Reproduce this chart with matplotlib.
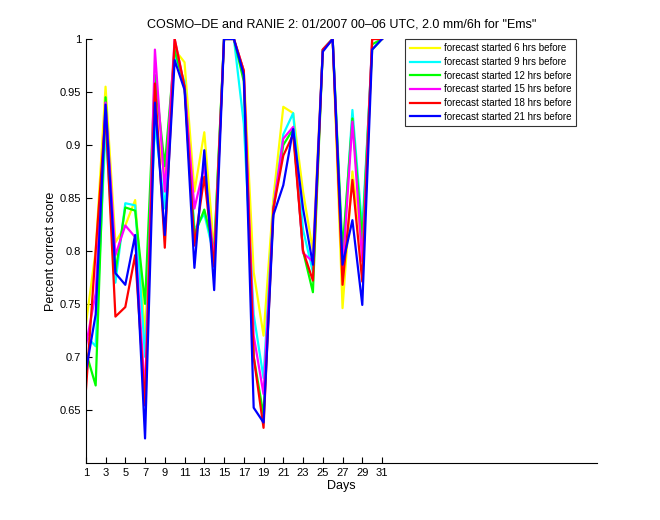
import matplotlib
matplotlib.use("agg")
import matplotlib.pyplot as plt
import numpy as np

days = np.arange(1, 32)

# percent correct score per day, one list per forecast lead
f06 = [0.73, 0.80, 0.955, 0.808, 0.824, 0.848, 0.72, 0.925, 0.87, 0.99, 0.978, 0.856, 0.912, 0.80, 1.0, 1.0,
       0.97, 0.78, 0.72, 0.85, 0.936, 0.93, 0.856, 0.80, 0.99, 1.0, 0.746, 0.875, 0.80, 0.99, 1.0]
f09 = [0.72, 0.71, 0.915, 0.77, 0.845, 0.843, 0.70, 0.92, 0.84, 0.985, 0.96, 0.82, 0.835, 0.795, 1.0, 1.0,
       0.92, 0.74, 0.68, 0.84, 0.91, 0.93, 0.82, 0.78, 0.99, 1.0, 0.79, 0.933, 0.82, 0.99, 1.0]
f12 = [0.705, 0.673, 0.945, 0.78, 0.841, 0.838, 0.75, 0.966, 0.88, 0.99, 0.955, 0.815, 0.839, 0.80, 1.0, 1.0,
       0.96, 0.70, 0.645, 0.84, 0.90, 0.915, 0.80, 0.761, 0.99, 1.0, 0.80, 0.925, 0.81, 0.995, 1.0]
f15 = [0.71, 0.76, 0.94, 0.796, 0.824, 0.813, 0.664, 0.99, 0.856, 1.0, 0.955, 0.84, 0.88, 0.79, 1.0, 1.0,
       0.97, 0.72, 0.665, 0.84, 0.906, 0.917, 0.798, 0.79, 0.99, 1.0, 0.78, 0.922, 0.79, 1.0, 1.0]
f18 = [0.667, 0.80, 0.93, 0.738, 0.747, 0.796, 0.654, 0.958, 0.803, 1.0, 0.955, 0.805, 0.87, 0.785, 1.0, 1.0,
       0.97, 0.70, 0.633, 0.84, 0.89, 0.91, 0.80, 0.772, 0.99, 1.0, 0.768, 0.867, 0.771, 1.0, 1.0]
f21 = [0.686, 0.74, 0.938, 0.779, 0.768, 0.815, 0.623, 0.94, 0.815, 0.98, 0.952, 0.784, 0.895, 0.763, 1.0, 1.0,
       0.966, 0.652, 0.638, 0.834, 0.862, 0.915, 0.84, 0.787, 0.988, 1.0, 0.787, 0.829, 0.749, 0.99, 1.0]

series = [f06, f09, f12, f15, f18, f21]
colors = ["#ffff00", "#00ffff", "#00ff00", "#ff00ff", "#ff0000", "#0000ff"]
labels = ["forecast started 6 hrs before", "forecast started 9 hrs before",
          "forecast started 12 hrs before", "forecast started 15 hrs before",
          "forecast started 18 hrs before", "forecast started 21 hrs before"]

plt.rcParams['font.family'] = ['Liberation Sans', 'DejaVu Sans']

fig = plt.figure(figsize=(6.6, 5.2), dpi=100)
ax = fig.add_axes([0.13, 0.11, 0.775, 0.815])

for vals, c, lab in zip(series, colors, labels):
    ax.plot(days, vals, color=c, lw=1.6, label=lab)

ax.set_xlim(1, 52.8)
ax.set_ylim(0.6, 1)
ax.set_xticks(np.arange(1, 32, 2))
ax.set_yticks([0.65, 0.7, 0.75, 0.8, 0.85, 0.9, 0.95, 1])
ax.set_yticklabels(["0.65", "0.7", "0.75", "0.8", "0.85", "0.9", "0.95", "1"])
ax.tick_params(direction="in", length=4, labelsize=8, width=0.8)
ax.spines["top"].set_visible(False)
ax.spines["right"].set_visible(False)

ax.set_xlabel("Days", fontsize=9, labelpad=2)
ax.set_ylabel("Percent correct score", fontsize=9, labelpad=2)
ax.set_title('COSMO\u2013DE and RANIE 2: 01/2007 00\u201306 UTC, 2.0 mm/6h for "Ems"', fontsize=9, pad=8)

leg = ax.legend(loc="upper left", bbox_to_anchor=(0.625, 1.0), fontsize=7, frameon=True,
                fancybox=False, edgecolor="black", handlelength=3.1, handletextpad=0.4,
                borderpad=0.45, labelspacing=0.38, borderaxespad=0.0)
leg.get_frame().set_linewidth(0.8)

plt.savefig("out.png", dpi=100)
